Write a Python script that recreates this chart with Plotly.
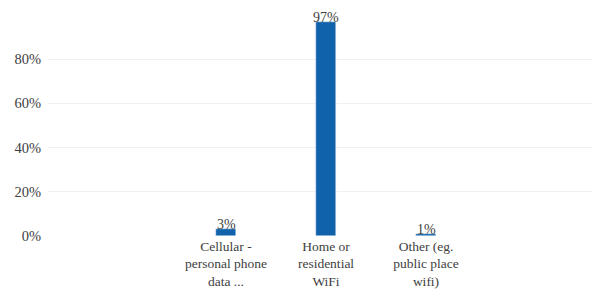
import plotly.graph_objects as go

categories = ["Cellular -<br>personal phone<br>data ...", "Home or<br>residential<br>WiFi", "Other (eg.<br>public place<br>wifi)"]
values = [3, 97, 1]
labels = ["3%", "97%", "1%"]
tick_vals = [0, 20, 40, 60, 80]
tick_text = ["0%", "20%", "40%", "60%", "80%"]

xs = list(range(len(categories)))
FONT = '"Liberation Serif", "Times New Roman", Times, serif'

# The page body has an 8px default margin, so the figure is sized to fit inside the window.
fig = go.Figure(go.Bar(
    x=xs, y=values, width=0.2,
    marker_color="#1063aa",
))
for x, v, t in zip(xs, values, labels):
    fig.add_annotation(x=x, y=v, text=t, showarrow=False, yanchor="bottom",
                       yshift=-5, font=dict(family=FONT, size=14, color="#404040"))
fig.update_layout(
    width=592, height=283,
    margin=dict(l=40, r=5, t=7, b=55, autoexpand=False),
    plot_bgcolor="white", paper_bgcolor="white",
    font=dict(family=FONT, size=14, color="#404040"),
    showlegend=False,
    bargap=0,
)
fig.update_xaxes(tickvals=xs, ticktext=categories,
                 range=[-1.78, 3.69], showgrid=False, zeroline=False, showline=False,
                 ticks="", automargin=False, tickfont=dict(family=FONT, size=13.5), ticklabelstandoff=0)
fig.update_yaxes(range=[0, 100], tickvals=tick_vals, ticktext=tick_text,
                 showgrid=True, gridcolor="#f0f0f0", zeroline=False, ticks="",
                 automargin=False, tickfont=dict(family=FONT, size=14.5), ticklabelstandoff=6)
fig.write_html("out.html")
